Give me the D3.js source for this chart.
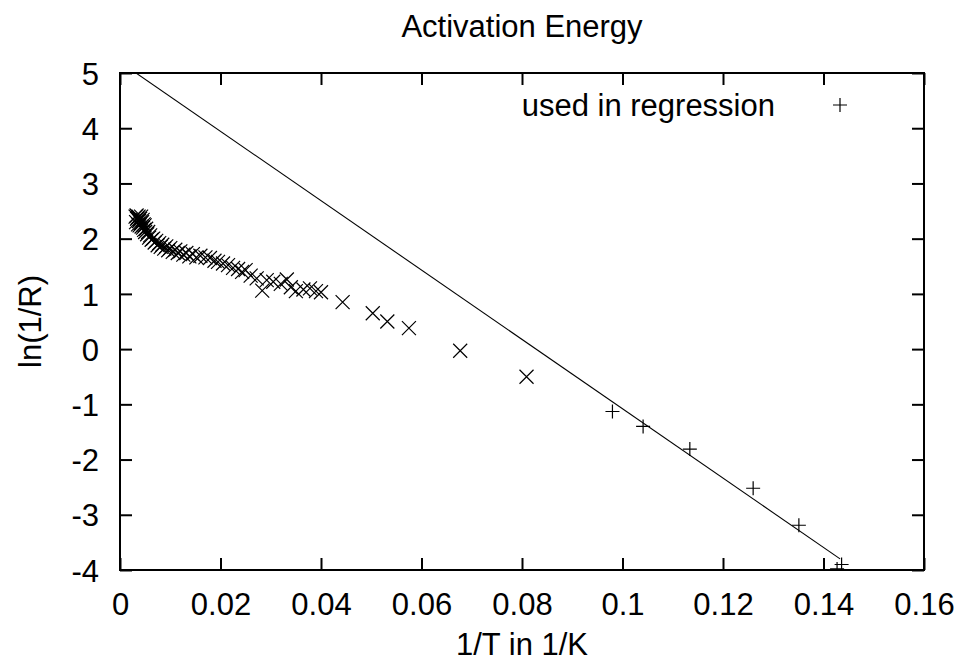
<!DOCTYPE html>
<html>
<head>
<meta charset="utf-8">
<script src="https://cdn.jsdelivr.net/npm/d3@7"></script>
<style>
  html, body { margin: 0; padding: 0; background: #fff; }
  text { font-family: "Liberation Sans", Arial, sans-serif; fill: #000; }
</style>
</head>
<body>
<svg id="chart" width="962" height="661"></svg>
<script>
// ---- data ----
const title = "Activation Energy";
const xLabel = "1/T in 1/K";
const yLabel = "ln(1/R)";
const legendLabel = "used in regression";
const xTicks = [0, 0.02, 0.04, 0.06, 0.08, 0.1, 0.12, 0.14, 0.16];
const yTicks = [-4, -3, -2, -1, 0, 1, 2, 3, 4, 5];

// all measurements (x marks)
const allX = [0.0031,0.0032,0.0033,0.0034,0.0035,0.0036,0.0037,0.0038,0.0039,0.0040,0.0041,0.0042,0.0043,0.0044,0.0045,0.0046,0.0047,0.0048,0.0049,0.0050,0.0052,0.0054,0.0056,0.0058,0.0060,0.0063,0.0066,0.0069,0.0072,0.0075,0.0078,0.0081,0.0084,0.0088,0.0092,0.0096,0.0100,0.0105,0.0110,0.0115,0.0120,0.0126,0.0132,0.0138,0.0145,0.0152,0.0160,0.0170,0.0179,0.0188,0.0195,0.0205,0.0215,0.0225,0.0235,0.0243,0.0250,0.0260,0.0272,0.0283,0.0292,0.0305,0.0320,0.0332,0.0340,0.0350,0.0365,0.0378,0.0390,0.0400,0.0443,0.0503,0.0532,0.0575,0.0677,0.0809];
const allY = [2.40,2.30,2.42,2.36,2.38,2.26,2.40,2.32,2.24,2.36,2.28,2.40,2.22,2.30,2.34,2.20,2.26,2.16,2.24,2.12,2.18,2.08,2.12,2.02,2.06,1.98,2.00,1.93,1.96,1.88,1.92,1.85,1.89,1.82,1.86,1.79,1.83,1.76,1.80,1.74,1.77,1.71,1.74,1.68,1.72,1.66,1.69,1.66,1.65,1.60,1.58,1.55,1.52,1.47,1.45,1.40,1.43,1.33,1.28,1.06,1.25,1.22,1.18,1.26,1.12,1.05,1.08,1.10,1.05,1.03,0.85,0.65,0.50,0.38,-0.03,-0.50];

// points used in regression (+ marks)
const regX = [0.0980, 0.1041, 0.1134, 0.1260, 0.1351, 0.1436, 0.1427];
const regY = [-1.13, -1.40, -1.81, -2.52, -3.19, -3.90, -3.98];

// fitted line  ln(1/R) = a + b * (1/T), drawn over this x range
const fitA = 5.20;
const fitB = -62.8;
const fitRange = [0.0032, 0.1433];

// ---- layout ----
const svg = d3.select("#chart");
const L = 120, R = 924, T = 73, B = 570;
const x = d3.scaleLinear().domain([0, 0.16]).range([L, R]);
const y = d3.scaleLinear().domain([-4, 5]).range([B, T]);
const fs = 31;
const tickLen = 12;
const font = '"Liberation Sans", Arial, sans-serif';

svg.append("rect").attr("width", 962).attr("height", 661).attr("fill", "#fff");

// axes (gnuplot style: inward ticks, mirrored)
const fmtX = d => d === 0 ? "0" : String(+d.toFixed(2));
const fmtY = d => String(d);
const axB = svg.append("g").attr("transform", `translate(0,${B})`)
  .call(d3.axisBottom(x).tickValues(xTicks).tickSize(-tickLen).tickPadding(23).tickFormat(fmtX));
const axT = svg.append("g").attr("transform", `translate(0,${T})`)
  .call(d3.axisTop(x).tickValues(xTicks).tickSize(-tickLen).tickFormat(""));
const axL = svg.append("g").attr("transform", `translate(${L},0)`)
  .call(d3.axisLeft(y).tickValues(yTicks).tickSize(-tickLen).tickPadding(21).tickFormat(fmtY));
const axR = svg.append("g").attr("transform", `translate(${R},0)`)
  .call(d3.axisRight(y).tickValues(yTicks).tickSize(-tickLen).tickFormat(""));
[axB, axT, axL, axR].forEach(g => {
  g.select(".domain").remove();
  g.selectAll(".tick line").attr("stroke", "#000").attr("stroke-width", 2);
  g.selectAll(".tick text").attr("font-size", fs).attr("font-family", font).attr("fill", "#000");
});
axB.selectAll(".tick text").attr("dy", "0.71em");
axL.selectAll(".tick text").attr("dy", "0.36em");

// frame
svg.append("rect").attr("x", L).attr("y", T).attr("width", R - L).attr("height", B - T)
  .attr("fill", "none").attr("stroke", "#000").attr("stroke-width", 2);

// clip
svg.append("clipPath").attr("id", "clip").append("rect")
  .attr("x", L).attr("y", T).attr("width", R - L).attr("height", B - T);
const plot = svg.append("g").attr("clip-path", "url(#clip)");

// fitted line
const fitPts = fitRange.map(v => [v, fitA + fitB * v]);
plot.append("path")
  .attr("d", d3.line().x(d => x(d[0])).y(d => y(d[1]))(fitPts))
  .attr("fill", "none").attr("stroke", "#000").attr("stroke-width", 1.1);

// x marks
const s = 7;
const allPts = allX.map((v, i) => [v, allY[i]]);
plot.append("g").selectAll("path").data(allPts).join("path")
  .attr("d", d => {
    const cx = x(d[0]), cy = y(d[1]);
    return `M${cx - s},${cy - s}L${cx + s},${cy + s}M${cx - s},${cy + s}L${cx + s},${cy - s}`;
  })
  .attr("stroke", "#000").attr("stroke-width", 1.2).attr("fill", "none");

// + marks
const regPts = regX.map((v, i) => [v, regY[i]]);
const plusPath = (cx, cy) => `M${cx - s},${cy}L${cx + s},${cy}M${cx},${cy - s}L${cx},${cy + s}`;
plot.append("g").selectAll("path").data(regPts).join("path")
  .attr("d", d => plusPath(x(d[0]), y(d[1])))
  .attr("stroke", "#000").attr("stroke-width", 1.2).attr("fill", "none");

// legend
svg.append("text").attr("x", 775).attr("y", 105).attr("dy", "0.36em")
  .attr("text-anchor", "end").attr("font-size", fs).text(legendLabel);
svg.append("path").attr("d", plusPath(840, 105))
  .attr("stroke", "#000").attr("stroke-width", 1.2);

// titles
svg.append("text").attr("x", (L + R) / 2).attr("y", 37).attr("text-anchor", "middle")
  .attr("font-size", fs).text(title);
svg.append("text").attr("x", (L + R) / 2).attr("y", 655).attr("text-anchor", "middle")
  .attr("font-size", fs).text(xLabel);
svg.append("text").attr("transform", `translate(41,${(T + B) / 2}) rotate(-90)`)
  .attr("text-anchor", "middle").attr("font-size", fs).text(yLabel);
</script>
</body>
</html>
